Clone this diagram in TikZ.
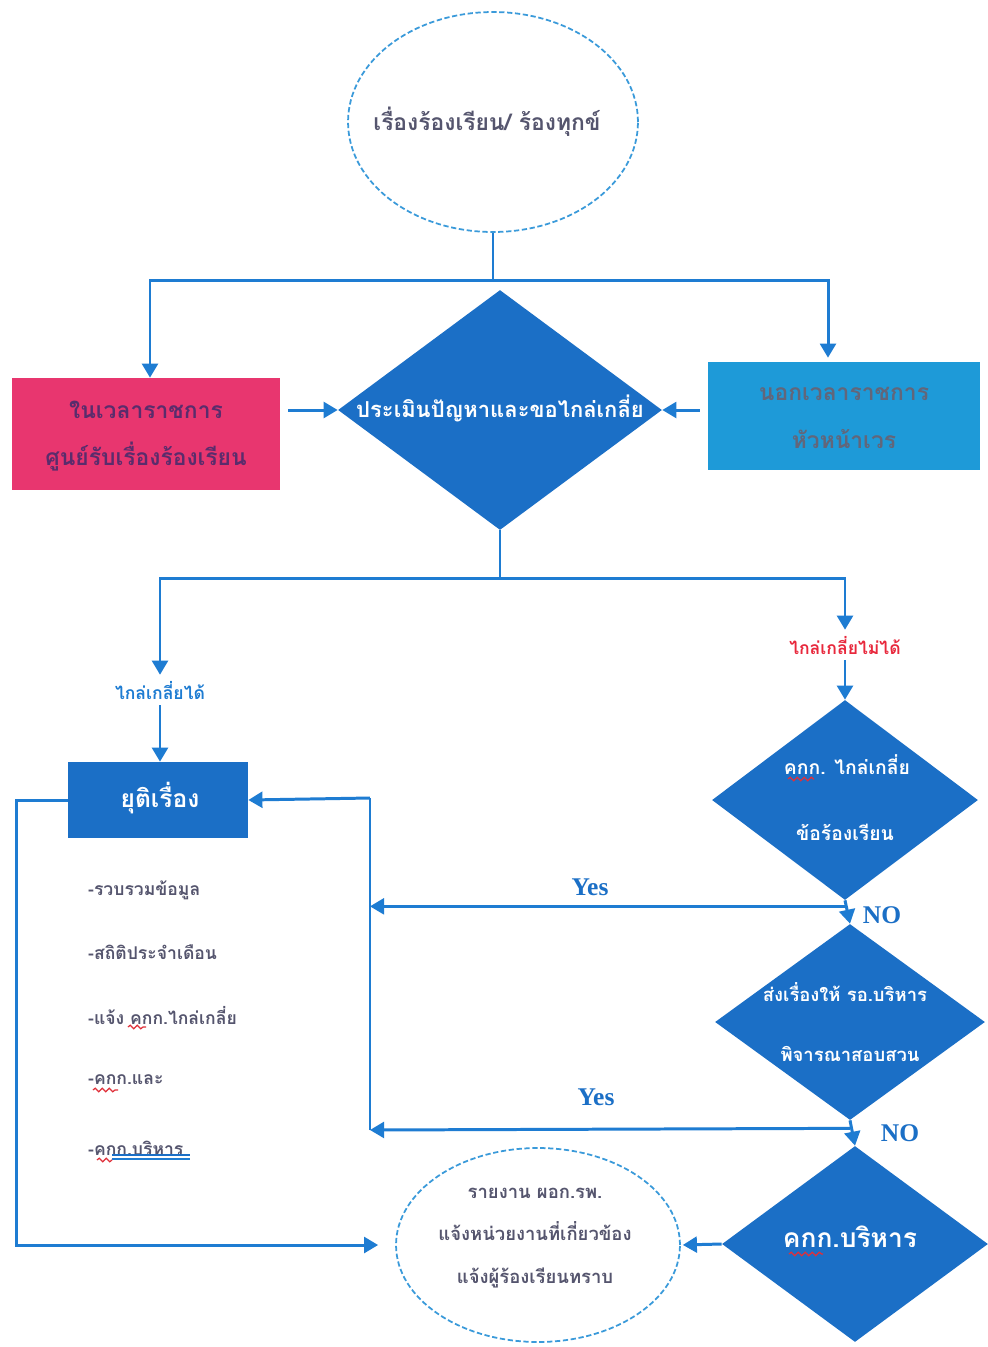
\documentclass[tikz,border=0pt]{standalone}
\usepackage{fontspec}
\setmainfont{Liberation Serif}
\newfontfamily\thai[Script=Thai]{Loma}
\usetikzlibrary{arrows.meta,shapes.geometric,decorations.pathmorphing}
\definecolor{dblue}{HTML}{1B6FC6}
\definecolor{lblue}{HTML}{1E9AD8}
\definecolor{pinkbox}{HTML}{E8366F}
\definecolor{linec}{HTML}{1E7CD2}
\definecolor{ellc}{HTML}{3A9ADA}
\definecolor{purp}{HTML}{5A2C6C}
\definecolor{grayt}{HTML}{55556E}
\definecolor{boxgray}{HTML}{62667A}
\definecolor{redlab}{HTML}{E8283C}
\definecolor{squig}{HTML}{E0303A}
\tikzset{
  flow/.style={draw=linec, line width=1.7pt},
  arr/.style={flow, -{Triangle[length=8pt,width=9pt]}},
  dia/.style={diamond, fill=dblue, draw=none, inner sep=0pt},
  ell/.style={ellipse, draw=ellc, line width=1pt, dash pattern=on 3pt off 1.5pt, inner sep=0pt},
  wtxt/.style={text=white, align=center, font={\thai\bfseries\fontsize{11}{20}\selectfont}},
  listtxt/.style={anchor=west, text=grayt, font={\thai\bfseries\fontsize{10}{12}\selectfont}},
  yn/.style={text=dblue, font={\bfseries\fontsize{14.5}{16}\selectfont}},
  wavy/.style={draw=squig, line width=0.7pt, decorate, decoration={snake, amplitude=1pt, segment length=4pt}}
}
\begin{document}
\begin{tikzpicture}[x=0.02cm, y=-0.02cm]
\useasboundingbox (0,0) rectangle (988,1347);
\fill[white] (0,0) rectangle (988,1347);

% top ellipse
\node[ell, minimum width=5.8cm, minimum height=4.4cm] (E1) at (493,122) {};
\node[text=grayt, font={\thai\bfseries\fontsize{13}{15}\selectfont}] (E1t) at (487,122) {เรื่องร้องเรียน/ ร้องทุกข์};

% second row
\node[fill=pinkbox, minimum width=5.36cm, minimum height=2.24cm, inner sep=0pt] (P) at (146,434) {};
\node[text=purp, align=center, font={\thai\bfseries\fontsize{13}{27}\selectfont}] (Pt) at (146,436) {ในเวลาราชการ\\ศูนย์รับเรื่องร้องเรียน};

\node[dia, minimum width=6.48cm, minimum height=4.8cm] (D1) at (500,410) {};
\node[wtxt, font={\thai\bfseries\fontsize{12.5}{15}\selectfont}] (D1t) at (500,408) {ประเมินปัญหาและขอไกล่เกลี่ย};

\node[fill=lblue, minimum width=5.44cm, minimum height=2.16cm, inner sep=0pt] (R) at (844,416) {};
\node[text=boxgray, align=center, font={\thai\bfseries\fontsize{13}{27}\selectfont}] (Rt) at (844,418) {นอกเวลาราชการ\\หัวหน้าเวร};

\coordinate (J1) at (493,280);
\draw[flow] (E1.south) -- (J1);
\draw[arr] (J1) -| ([xshift=0.08cm]P.north);
\draw[arr] (J1) -| ([xshift=-0.32cm,yshift=0.08cm]R.north);
\draw[arr, shorten <=0.16cm] (P.east |- D1.west) -- (D1.west);
\draw[arr, shorten <=0.16cm] (R.west |- D1.east) -- (D1.east);

% branch labels
\node[text=linec, font={\thai\bfseries\fontsize{10}{12}\selectfont}] (L1) at (160,690) {ไกล่เกลี่ยได้};
\node[text=redlab, font={\thai\bfseries\fontsize{10}{12}\selectfont}] (L2) at (845,645) {ไกล่เกลี่ยไม่ได้};
\coordinate (J2) at (500,578);
\draw[flow] (D1.south) -- (J2);
\draw[arr] (J2) -| (L1.north);
\draw[arr] (J2) -| (L2.north);

% stop box
\node[fill=dblue, minimum width=3.6cm, minimum height=1.52cm, inner sep=0pt] (B) at (158,800) {};
\node[text=white, font={\thai\bfseries\fontsize{14}{16}\selectfont}] (Bt) at (160,798) {ยุติเรื่อง};
\draw[arr] (L1.south) -- (L1.south |- B.north);

% right diamonds
\node[dia, minimum width=5.32cm, minimum height=4.0cm] (D2) at (845,800) {};
\node[wtxt] (D2a) at (847,765) {คกก. ไกล่เกลี่ย};
\node[wtxt] (D2b) at (845,832) {ข้อร้องเรียน};
\draw[arr] (L2.south) -- (D2.north);

\node[dia, minimum width=5.4cm, minimum height=3.92cm] (D3) at (850,1022) {};
\node[wtxt, font={\thai\bfseries\fontsize{10.5}{12}\selectfont}] (D3a) at (845,992) {ส่งเรื่องให้ รอ.บริหาร};
\node[wtxt, font={\thai\bfseries\fontsize{10.5}{12}\selectfont}] (D3b) at (850,1054) {พิจารณาสอบสวน};

\node[dia, minimum width=5.32cm, minimum height=3.92cm] (D4) at (855,1244) {};
\node[wtxt, font={\thai\bfseries\fontsize{15}{17}\selectfont}] (D4t) at (850,1237) {คกก.บริหาร};

\draw[arr] (D2.south) -- (D3.north);
\draw[arr] (D3.south) -- (D4.north);
\node[yn] (no1) at (882,915) {NO};
\node[yn] (no2) at (900,1133) {NO};

% yes returns
\coordinate (vt) at (370,798);
\coordinate (vb) at (370,1130);
\draw[flow] (vb) -- (vt);
\draw[arr] (vt) -- (B.east);
\draw[arr] ([yshift=-0.12cm]D2.south) -- ([yshift=-0.12cm]D2.south -| vt);
\draw[arr] ([yshift=-0.16cm]D3.south) -- (vb);
\node[yn] (yes1) at (590,887) {Yes};
\node[yn] (yes2) at (596,1097) {Yes};

% list
\node[listtxt] (l1) at (82,890) {-รวบรวมข้อมูล};
\node[listtxt] (l2) at (82,952) {-สถิติประจำเดือน};
\node[listtxt] (l3) at (82,1015) {-แจ้ง คกก.ไกล่เกลี่ย};
\node[listtxt] (l4) at (82,1080) {-คกก.และ};
\node[listtxt] (l5) at (82,1148) {-คกก.บริหาร};
\draw[draw=dblue, line width=0.8pt] (112,1155) -- (190,1155);
\draw[draw=linec, line width=0.8pt] (112,1159) -- (190,1159);

% bottom ellipse
\node[ell, minimum width=5.68cm, minimum height=3.88cm] (E2) at (538,1245) {};
\node[text=grayt, align=center, font={\thai\bfseries\fontsize{10.5}{24}\selectfont}] (E2t) at (535,1238) {รายงาน ผอก.รพ.\\แจ้งหน่วยงานที่เกี่ยวข้อง\\แจ้งผู้ร้องเรียนทราบ};

\draw[arr] (B.west) -- ++(-51,0) |- ([xshift=-0.34cm]E2.west);
\draw[arr, shorten >=0.04cm] (D4.west) -- (E2.east);

% spell-check squiggles
\draw[wavy] (788,779) -- (814,779);
\draw[wavy] (789,1254) -- (823,1254);
\draw[wavy] (128,1027) -- (146,1027);
\draw[wavy] (93,1090) -- (118,1090);
\draw[wavy] (97,1160) -- (112,1160);
\end{tikzpicture}
\end{document}
